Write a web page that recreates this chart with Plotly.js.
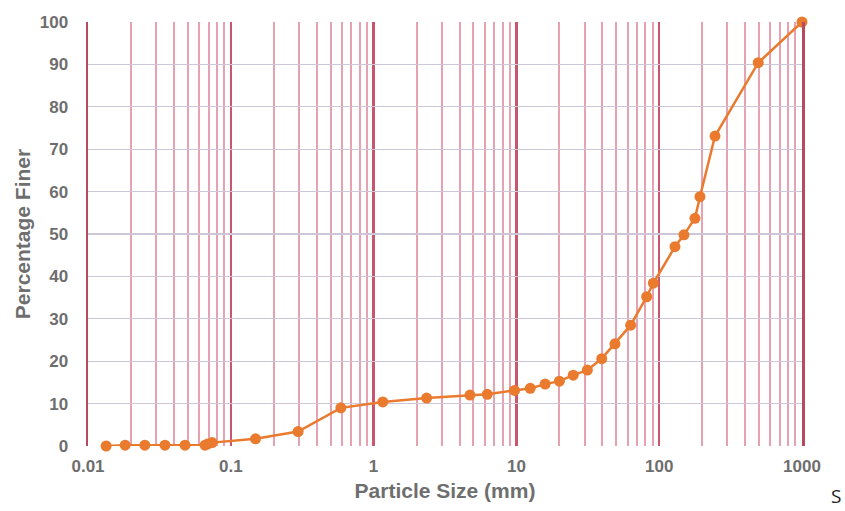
<!DOCTYPE html>
<html>
<head>
<meta charset="utf-8">
<script src="https://cdn.plot.ly/plotly-3.0.1.min.js"></script>
<style>html,body{margin:0;padding:0;background:#fff;}#chart{width:845px;height:511px;}</style>
</head>
<body>
<div id="chart"></div>
<script>
// Particle size (mm) and percentage finer
const particleSize = [0.0134, 0.0182, 0.025, 0.0346, 0.0478, 0.066, 0.069, 0.074, 0.149, 0.296, 0.59, 1.16, 2.35, 4.73, 6.25, 9.7, 12.5, 15.9, 20.0, 25.0, 31.4, 39.6, 49, 63.1, 81.7, 91, 129, 149, 178, 193, 246, 494, 1000];
const percentFiner = [0, 0.2, 0.2, 0.2, 0.2, 0.2, 0.5, 0.8, 1.7, 3.4, 9.0, 10.4, 11.3, 12.0, 12.2, 13.1, 13.6, 14.6, 15.3, 16.7, 17.9, 20.6, 24.1, 28.5, 35.2, 38.4, 47.0, 49.8, 53.7, 58.8, 73.1, 90.4, 100];

const xTickVals = [0.01, 0.1, 1, 10, 100, 1000];
const xTickText = ['0.01', '0.1', '1', '10', '100', '1000'];
const yTickVals = [0, 10, 20, 30, 40, 50, 60, 70, 80, 90, 100];

const decades = [0.01, 0.1, 1, 10, 100];
const multipliers = [2, 3, 4, 5, 6, 7, 8, 9];
const minorVals = [];
decades.forEach(d => multipliers.forEach(m => minorVals.push(+(d * m).toPrecision(3))));

const trace = {
  x: particleSize,
  y: percentFiner,
  type: 'scatter',
  mode: 'lines+markers',
  line: {color: '#e97a2e', width: 2.5},
  marker: {color: '#e97a2e', size: 11},
  cliponaxis: false,
  hoverinfo: 'skip'
};

const tickFont = {family: 'Liberation Sans, Arial, sans-serif', size: 17, color: '#6e6e6e', weight: 'bold'};
const titleFont = {family: 'Liberation Sans, Arial, sans-serif', size: 21, color: '#6e6e6e', weight: 'bold'};

const layout = {
  width: 845,
  height: 511,
  margin: {l: 88, r: 43, t: 22, b: 65},
  paper_bgcolor: '#ffffff',
  plot_bgcolor: '#ffffff',
  showlegend: false,
  xaxis: {
    type: 'log',
    range: [-2, 3],
    tickmode: 'array',
    tickvals: xTickVals,
    ticktext: xTickText,
    tickfont: tickFont,
    ticks: '',
    ticklabelstandoff: 8,
    showgrid: true,
    gridcolor: '#c9566c',
    gridwidth: 2.5,
    zeroline: false,
    showline: false,
    minor: {
      tickmode: 'array',
      tickvals: minorVals,
      showgrid: true,
      gridcolor: '#e7a2b2',
      gridwidth: 2,
      ticks: ''
    },
    title: {text: 'Particle Size (mm)', font: titleFont, standoff: 8}
  },
  yaxis: {
    range: [0, 100],
    tickmode: 'array',
    tickvals: yTickVals,
    tickfont: tickFont,
    ticks: '',
    ticklabelstandoff: 14,
    showgrid: true,
    gridcolor: '#cdc6d6',
    gridwidth: 1.2,
    zeroline: false,
    showline: true,
    linecolor: '#b84a60',
    linewidth: 2.5,
    mirror: true,
    title: {text: 'Percentage Finer', font: titleFont, standoff: 4}
  },
  annotations: [{
    text: 'S',
    xref: 'paper', yref: 'paper',
    x: 1.039, y: -0.117,
    xanchor: 'left', yanchor: 'middle',
    borderpad: 0,
    showarrow: false,
    font: {family: 'Open Sans, Noto Sans, sans-serif', size: 19, color: '#222222'}
  }]
};

Plotly.newPlot('chart', [trace], layout, {staticPlot: true, displayModeBar: false});
</script>
</body>
</html>
